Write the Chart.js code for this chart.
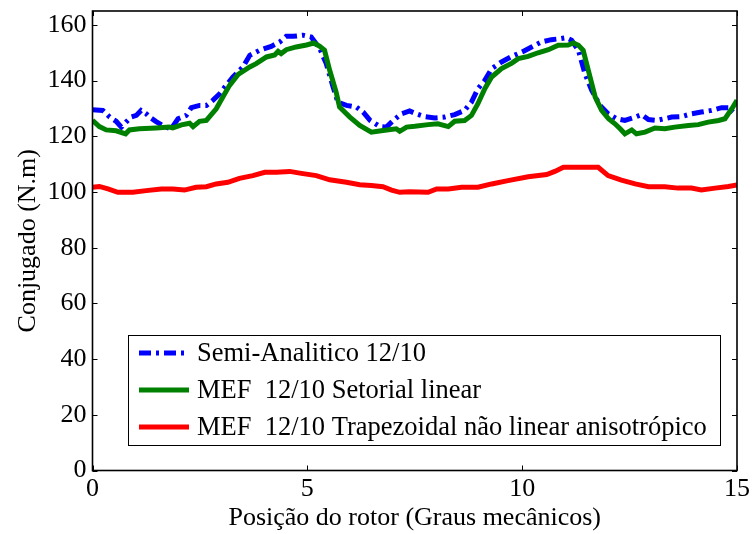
<!DOCTYPE html>
<html>
<head>
<meta charset="utf-8">
<script src="https://cdn.jsdelivr.net/npm/chart.js@4.4.1/dist/chart.umd.min.js"></script>
<style>
  html, body { margin: 0; padding: 0; background: #ffffff; }
  #wrap { width: 752px; height: 534px; }
</style>
</head>
<body>
<div id="wrap"><canvas id="c" width="752" height="534"></canvas></div>
<script>
// Rotor position (mechanical degrees) and torque (N.m) for each model
const semiX = [0.00, 0.24, 0.40, 0.55, 0.67, 0.78, 0.90, 1.02, 1.13, 1.25, 1.33, 1.48, 1.68, 1.83, 1.99, 2.18, 2.30, 2.49, 2.65, 2.80, 2.96, 3.11, 3.27, 3.50, 3.66, 3.89, 4.16, 4.36, 4.51, 4.67, 4.90, 5.09, 5.29, 5.44, 5.60, 5.71, 5.91, 6.14, 6.30, 6.46, 6.69, 6.84, 7.00, 7.19, 7.38, 7.55, 7.73, 7.97, 8.20, 8.43, 8.66, 8.82, 8.97, 9.13, 9.29, 9.52, 9.76, 10.00, 10.22, 10.45, 10.68, 10.91, 11.03, 11.15, 11.31, 11.46, 11.62, 11.81, 12.00, 12.20, 12.39, 12.63, 12.78, 12.94, 13.13, 13.28, 13.48, 13.71, 13.94, 14.17, 14.41, 14.64, 14.80, 14.91];
const semiY = [129.5, 129.3, 126.9, 125.4, 123.3, 125.1, 126.9, 127.5, 129.3, 128.1, 126.9, 125.3, 123.5, 122.7, 126.3, 127.5, 130.3, 131.1, 131.1, 132.9, 135.3, 138.3, 141.3, 144.9, 149.1, 150.9, 152.3, 153.9, 155.9, 155.9, 156.3, 155.7, 151.5, 146.1, 137.7, 132.3, 131.1, 130.5, 128.7, 125.7, 123.5, 123.3, 125.7, 128.1, 129.1, 128.0, 127.1, 126.6, 126.9, 127.8, 129.3, 132.3, 137.1, 140.1, 144.3, 146.7, 148.7, 150.3, 152.1, 153.9, 154.7, 155.1, 155.4, 154.5, 150.9, 142.5, 136.5, 131.1, 128.1, 126.3, 125.7, 126.9, 127.8, 126.0, 125.7, 126.2, 126.9, 127.1, 128.1, 128.7, 129.3, 130.3, 130.3, 128.7];

const setorialX = [0.00, 0.16, 0.32, 0.55, 0.77, 0.86, 1.09, 1.48, 1.79, 1.87, 2.07, 2.26, 2.34, 2.49, 2.65, 2.88, 3.04, 3.19, 3.39, 3.66, 3.81, 4.05, 4.24, 4.32, 4.39, 4.51, 4.74, 4.98, 5.15, 5.29, 5.40, 5.52, 5.67, 5.75, 5.99, 6.22, 6.49, 6.76, 7.07, 7.15, 7.31, 7.50, 7.81, 8.04, 8.28, 8.43, 8.66, 8.82, 8.97, 9.13, 9.29, 9.52, 9.76, 9.91, 10.14, 10.37, 10.61, 10.84, 11.07, 11.19, 11.31, 11.42, 11.54, 11.70, 11.85, 12.01, 12.16, 12.28, 12.39, 12.55, 12.66, 12.86, 13.09, 13.32, 13.55, 13.87, 14.10, 14.33, 14.57, 14.72, 14.88, 15.00];
const setorialY = [125.7, 123.5, 122.3, 122.0, 120.9, 122.3, 122.7, 123.0, 123.3, 123.0, 124.1, 124.7, 123.5, 125.4, 125.7, 129.9, 134.3, 138.3, 142.2, 144.9, 146.1, 148.5, 149.2, 150.5, 149.7, 151.1, 152.1, 152.8, 153.5, 152.3, 150.9, 143.7, 135.9, 130.5, 126.9, 123.9, 121.5, 122.1, 122.7, 121.8, 123.3, 123.6, 124.2, 124.5, 123.5, 125.4, 125.7, 127.5, 131.7, 137.1, 141.3, 144.3, 146.3, 147.9, 148.7, 150.0, 151.1, 152.7, 152.8, 153.5, 152.7, 150.9, 143.7, 134.1, 129.3, 126.3, 124.5, 122.7, 120.9, 122.3, 120.9, 121.5, 123.0, 122.7, 123.3, 123.9, 124.2, 125.1, 125.7, 126.3, 129.9, 132.9];

const trapezoidalX = [0.00, 0.16, 0.36, 0.59, 0.94, 1.25, 1.60, 1.87, 2.14, 2.41, 2.65, 2.88, 3.15, 3.42, 3.73, 4.01, 4.28, 4.59, 4.86, 5.21, 5.52, 5.91, 6.22, 6.49, 6.76, 6.96, 7.15, 7.38, 7.81, 8.01, 8.28, 8.59, 8.97, 9.29, 9.67, 10.14, 10.57, 10.76, 10.96, 11.38, 11.77, 12.00, 12.31, 12.63, 12.94, 13.32, 13.63, 13.94, 14.17, 14.49, 14.80, 15.00];
const trapezoidalY = [101.7, 102.0, 101.1, 99.9, 99.9, 100.5, 101.1, 101.1, 100.7, 101.7, 101.9, 102.9, 103.5, 104.9, 105.9, 107.1, 107.1, 107.4, 106.7, 105.9, 104.4, 103.5, 102.6, 102.3, 101.9, 100.7, 99.9, 100.1, 99.9, 101.1, 101.1, 101.7, 101.7, 102.9, 104.1, 105.5, 106.3, 107.4, 108.9, 108.9, 108.9, 105.9, 104.3, 102.9, 101.9, 101.9, 101.4, 101.4, 100.7, 101.4, 102.0, 102.5];

const seriesLabels = ['Semi-Analitico 12/10', 'MEF  12/10 Setorial linear', 'MEF  12/10 Trapezoidal não linear anisotrópico'];
const xTicks = [0, 5, 10, 15];
const yTicks = [0, 20, 40, 60, 80, 100, 120, 140, 160];
const xTitle = 'Posição do rotor (Graus mecânicos)';
const yTitle = 'Conjugado (N.m)';

const FONT = '"Liberation Serif", "Times New Roman", serif';
const BLUE_DASH = [12, 5, 3, 5];

function toPoints(xs, ys) { return xs.map((x, i) => ({ x: x, y: ys[i] })); }

// Axes box with inward-pointing tick marks on all four sides
const boxPlugin = {
  id: 'boxPlugin',
  afterDatasetsDraw(chart) {
    const { ctx, chartArea: a, scales } = chart;
    ctx.save();
    ctx.strokeStyle = '#000';
    ctx.lineWidth = 1;
    const tl = 5;
    scales.y.ticks.forEach(t => {
      const y = Math.round(scales.y.getPixelForValue(t.value)) + 0.5;
      ctx.beginPath();
      ctx.moveTo(a.left, y); ctx.lineTo(a.left + tl, y);
      ctx.moveTo(a.right, y); ctx.lineTo(a.right - tl, y);
      ctx.stroke();
    });
    scales.x.ticks.forEach(t => {
      const x = Math.round(scales.x.getPixelForValue(t.value)) + 0.5;
      ctx.beginPath();
      ctx.moveTo(x, a.bottom); ctx.lineTo(x, a.bottom - tl);
      ctx.moveTo(x, a.top); ctx.lineTo(x, a.top + tl);
      ctx.stroke();
    });
    ctx.lineWidth = 1.6;
    ctx.strokeRect(a.left, a.top, a.right - a.left, a.bottom - a.top);
    ctx.restore();
  }
};

// Legend box inside the plot area
const legendPlugin = {
  id: 'innerLegend',
  afterDatasetsDraw(chart) {
    const { ctx } = chart;
    const box = { x: 128.5, y: 335.5, w: 592, h: 110 };
    ctx.save();
    ctx.fillStyle = '#fff';
    ctx.fillRect(box.x, box.y, box.w, box.h);
    ctx.strokeStyle = '#000';
    ctx.lineWidth = 1;
    ctx.strokeRect(box.x, box.y, box.w, box.h);
    ctx.font = '26.5px ' + FONT;
    ctx.textBaseline = 'middle';
    ctx.fillStyle = '#000';
    const rows = [353, 390, 427];
    chart.data.datasets.forEach((ds, i) => {
      const y = rows[i];
      ctx.beginPath();
      ctx.strokeStyle = ds.borderColor;
      ctx.lineWidth = ds.borderWidth;
      ctx.setLineDash(ds.borderDash || []);
      ctx.lineDashOffset = 0;
      ctx.moveTo(139, y);
      ctx.lineTo(189, y);
      ctx.stroke();
      ctx.setLineDash([]);
      ctx.fillText(ds.label, 197, y + 1);
    });
    ctx.restore();
  }
};

new Chart(document.getElementById('c'), {
  type: 'line',
  data: {
    datasets: [
      {
        label: seriesLabels[0],
        data: toPoints(semiX, semiY),
        borderColor: '#0000ff',
        borderWidth: 5,
        borderDash: BLUE_DASH,
        borderCapStyle: 'butt',
        pointRadius: 0,
        tension: 0,
        order: 3
      },
      {
        label: seriesLabels[1],
        data: toPoints(setorialX, setorialY),
        borderColor: '#008000',
        borderWidth: 5,
        pointRadius: 0,
        tension: 0,
        order: 2
      },
      {
        label: seriesLabels[2],
        data: toPoints(trapezoidalX, trapezoidalY),
        borderColor: '#ff0000',
        borderWidth: 5,
        pointRadius: 0,
        tension: 0,
        order: 1
      }
    ]
  },
  options: {
    responsive: false,
    animation: false,
    events: [],
    layout: { padding: { top: 11, right: 15, left: 0, bottom: 0 } },
    plugins: { legend: { display: false }, tooltip: { enabled: false } },
    scales: {
      x: {
        type: 'linear',
        min: 0,
        max: 15,
        grid: { display: false, drawTicks: false },
        border: { display: false },
        afterBuildTicks(scale) { scale.ticks = xTicks.map(v => ({ value: v })); },
        afterFit(scale) { scale.height = 63.5; scale.paddingLeft = 0; scale.paddingRight = 0; },
        ticks: {
          color: '#000',
          font: { family: FONT, size: 26 },
          padding: 3,
          maxRotation: 0,
          autoSkip: false
        },
        title: {
          display: true,
          text: xTitle,
          color: '#000',
          font: { family: FONT, size: 26 },
          padding: { top: 0, bottom: 0 }
        }
      },
      y: {
        type: 'linear',
        min: 0,
        max: 165,
        grid: { display: false, drawTicks: false },
        border: { display: false },
        afterBuildTicks(scale) { scale.ticks = yTicks.map(v => ({ value: v })); },
        afterFit(scale) { scale.width = 92.5; scale.paddingTop = 0; scale.paddingBottom = 0; },
        ticks: {
          color: '#000',
          font: { family: FONT, size: 26 },
          padding: 6,
          autoSkip: false
        },
        title: {
          display: true,
          text: yTitle,
          color: '#000',
          font: { family: FONT, size: 26 },
          padding: { top: 13, bottom: 0 }
        }
      }
    }
  },
  plugins: [boxPlugin, legendPlugin]
});
</script>
</body>
</html>
